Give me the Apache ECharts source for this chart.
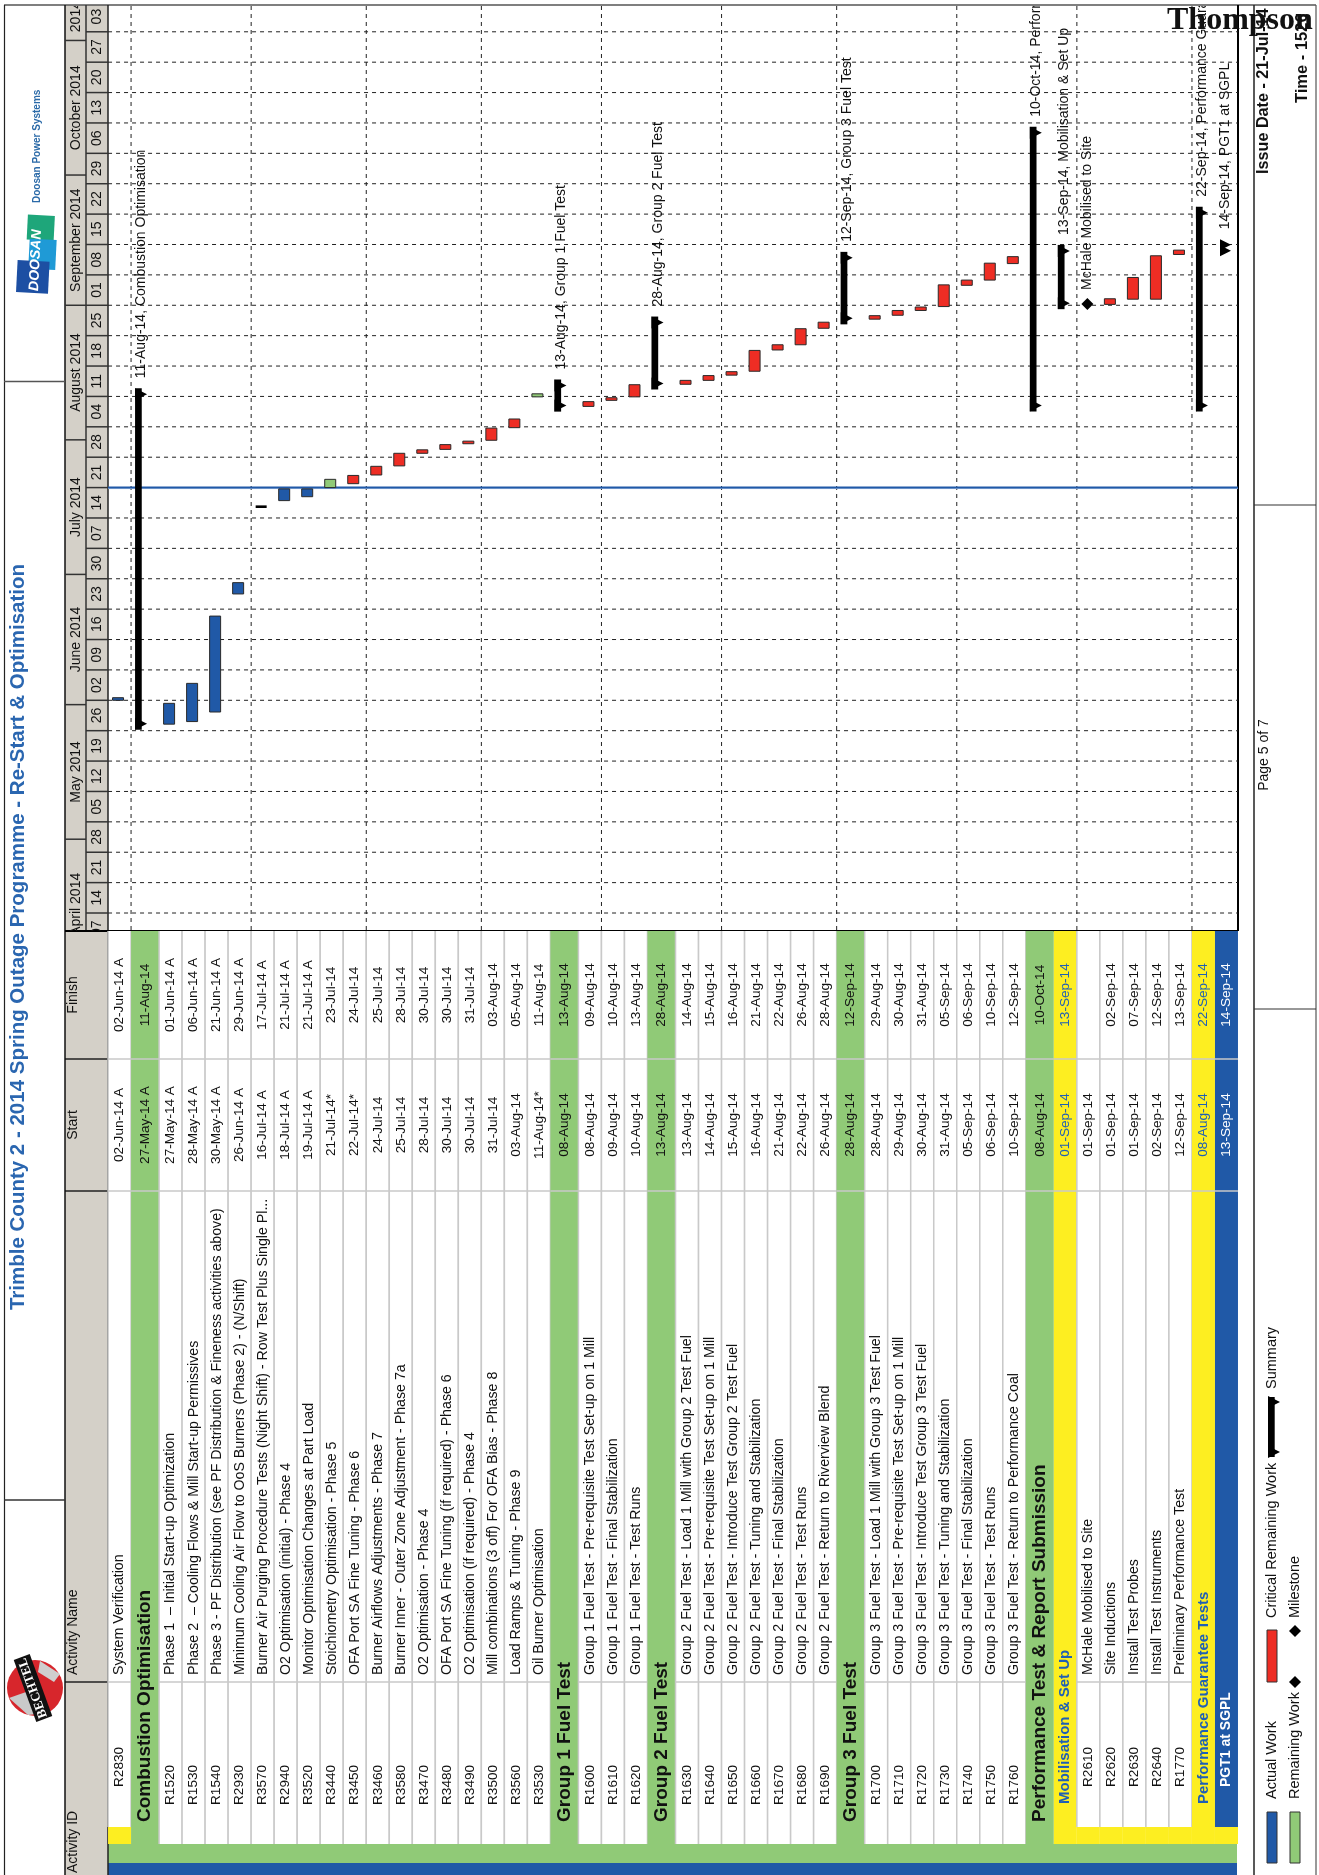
<!DOCTYPE html>
<html>
<head>
<meta charset="utf-8">
<style>html,body{margin:0;padding:0;background:#fff}#c{width:1319px;height:1875px}</style>
<script src="https://cdn.jsdelivr.net/npm/echarts@6/dist/echarts.min.js"></script>
</head>
<body>
<div id="c"></div>
<script>
const rowIds=['R2830','','R1520','R1530','R1540','R2930','R3570','R2940','R3520','R3440','R3450','R3460','R3580','R3470','R3480','R3490','R3500','R3560','R3530','','R1600','R1610','R1620','','R1630','R1640','R1650','R1660','R1670','R1680','R1690','','R1700','R1710','R1720','R1730','R1740','R1750','R1760','','','R2610','R2620','R2630','R2640','R1770','','PGT1 at SGPL'];
const rowNames=['System Verification','Combustion Optimisation','Phase 1  – Initial Start-up Optimization','Phase 2  – Cooling Flows & Mill Start-up Permissives','Phase 3 - PF Distribution (see PF Distribution & Fineness activities above)','Minimum Cooling Air Flow to OoS Burners (Phase 2) - (N/Shift)','Burner Air Purging Procedure Tests (Night Shift) - Row Test Plus Single Pl...','O2 Optimisation (initial) - Phase 4','Monitor Optimisation Changes at Part Load','Stoichiometry Optimisation - Phase 5','OFA Port SA Fine Tuning - Phase 6','Burner Airflows Adjustments - Phase 7','Burner Inner - Outer Zone Adjustment - Phase 7a','O2 Optimisation - Phase 4','OFA Port SA Fine Tuning (if required) - Phase 6','O2 Optimisation (if required) - Phase 4','Mill combinations (3 off) For OFA Bias - Phase 8','Load Ramps & Tuning - Phase 9','Oil Burner Optimisation','Group 1 Fuel Test','Group 1 Fuel Test - Pre-requisite Test Set-up on 1 Mill','Group 1 Fuel Test - Final Stabilization','Group 1 Fuel Test - Test Runs','Group 2 Fuel Test','Group 2 Fuel Test - Load 1 Mill with Group 2 Test Fuel','Group 2 Fuel Test - Pre-requisite Test Set-up on 1 Mill','Group 2 Fuel Test - Introduce Test Group 2 Test Fuel','Group 2 Fuel Test - Tuning and Stabilization','Group 2 Fuel Test - Final Stabilization','Group 2 Fuel Test - Test Runs','Group 2 Fuel Test - Return to Riverview Blend','Group 3 Fuel Test','Group 3 Fuel Test - Load 1 Mill with Group 3 Test Fuel','Group 3 Fuel Test - Pre-requisite Test Set-up on 1 Mill','Group 3 Fuel Test - Introduce Test Group 3 Test Fuel','Group 3 Fuel Test - Tuning and Stabilization','Group 3 Fuel Test - Final Stabilization','Group 3 Fuel Test - Test Runs','Group 3 Fuel Test - Return to Performance Coal','Performance Test & Report Submission','Mobilisation & Set Up','McHale Mobilised to Site','Site Inductions','Install Test Probes','Install Test Instruments','Preliminary Performance Test','Performance Guarantee Tests',''];
const rowStarts=['02-Jun-14 A','27-May-14 A','27-May-14 A','28-May-14 A','30-May-14 A','26-Jun-14 A','16-Jul-14 A','18-Jul-14 A','19-Jul-14 A','21-Jul-14*','22-Jul-14*','24-Jul-14','25-Jul-14','28-Jul-14','30-Jul-14','30-Jul-14','31-Jul-14','03-Aug-14','11-Aug-14*','08-Aug-14','08-Aug-14','09-Aug-14','10-Aug-14','13-Aug-14','13-Aug-14','14-Aug-14','15-Aug-14','16-Aug-14','21-Aug-14','22-Aug-14','26-Aug-14','28-Aug-14','28-Aug-14','29-Aug-14','30-Aug-14','31-Aug-14','05-Sep-14','06-Sep-14','10-Sep-14','08-Aug-14','01-Sep-14','01-Sep-14','01-Sep-14','01-Sep-14','02-Sep-14','12-Sep-14','08-Aug-14','13-Sep-14'];
const rowFinishes=['02-Jun-14 A','11-Aug-14','01-Jun-14 A','06-Jun-14 A','21-Jun-14 A','29-Jun-14 A','17-Jul-14 A','21-Jul-14 A','21-Jul-14 A','23-Jul-14','24-Jul-14','25-Jul-14','28-Jul-14','30-Jul-14','30-Jul-14','31-Jul-14','03-Aug-14','05-Aug-14','11-Aug-14','13-Aug-14','09-Aug-14','10-Aug-14','13-Aug-14','28-Aug-14','14-Aug-14','15-Aug-14','16-Aug-14','21-Aug-14','22-Aug-14','26-Aug-14','28-Aug-14','12-Sep-14','29-Aug-14','30-Aug-14','31-Aug-14','05-Sep-14','06-Sep-14','10-Sep-14','12-Sep-14','10-Oct-14','13-Sep-14','','02-Sep-14','07-Sep-14','12-Sep-14','13-Sep-14','22-Sep-14','14-Sep-14'];
const rowKinds=['first','group','task','task','task','task','task','task','task','task','task','task','task','task','task','task','task','task','task','group','task','task','task','group','task','task','task','task','task','task','task','group','task','task','task','task','task','task','task','group','sub','subtask','subtask','subtask','subtask','subtask','sub','pgt'];
// bar extents, in days after 14 Apr 2014
const barFrom=[49.0,42.2,43.5,44.1,46.3,73.5,93.3,95.0,95.9,98.0,98.9,100.9,103.0,105.9,106.8,108.1,108.9,111.8,118.9,115.5,116.7,118.1,118.9,120.6,121.8,122.7,123.9,124.8,129.7,130.9,134.7,135.6,136.8,137.7,138.8,139.7,144.6,145.8,149.6,115.5,139.1,140.3,140.2,141.4,141.4,151.7,115.5,151.3];
const barTo=[49.6,120.9,48.3,52.9,68.4,76.1,93.9,97.7,97.7,99.9,100.8,102.9,105.9,106.7,107.9,108.7,111.7,113.8,119.6,122.9,117.8,118.7,121.7,137.4,122.7,123.8,124.7,129.6,130.9,134.6,136.1,152.3,137.6,138.8,139.6,144.7,145.8,149.7,151.2,181.1,153.9,140.3,141.5,146.4,151.4,152.7,162.7,155.2];
const barTypes=['actual','summary','actual','actual','actual','actual','thin','actual','actual','remaining','critical','critical','critical','critical','critical','critical','critical','critical','remaining','summary','critical','critical','critical','summary','critical','critical','critical','critical','critical','critical','critical','summary','critical','critical','critical','critical','critical','critical','critical','summary','summary','milestone','critical','critical','critical','critical','summary','doubleArrow'];
const barLabels={1:'11-Aug-14, Combustion Optimisation',19:'13-Aug-14, Group 1 Fuel Test',23:'28-Aug-14, Group 2 Fuel Test',31:'12-Sep-14, Group 3 Fuel Test',39:'10-Oct-14, Performance Test & Report Submission',40:'13-Sep-14, Mobilisation & Set Up',41:'McHale Mobilised to Site',46:'22-Sep-14, Performance Guarantee Tests',47:'14-Sep-14, PGT1 at SGPL'};
const weekDates=['2014-04-07','2014-04-14','2014-04-21','2014-04-28','2014-05-05','2014-05-12','2014-05-19','2014-05-26','2014-06-02','2014-06-09','2014-06-16','2014-06-23','2014-06-30','2014-07-07','2014-07-14','2014-07-21','2014-07-28','2014-08-04','2014-08-11','2014-08-18','2014-08-25','2014-09-01','2014-09-08','2014-09-15','2014-09-22','2014-09-29','2014-10-06','2014-10-13','2014-10-20','2014-10-27','2014-11-03'];
const weekLabels=['07','14','21','28','05','12','19','26','02','09','16','23','30','07','14','21','28','04','11','18','25','01','08','15','22','29','06','13','20','27','03'];
const monthNames=['April 2014','May 2014','June 2014','July 2014','August 2014','September 2014','October 2014','2014'];
const monthStarts=['2014-04-01','2014-05-01','2014-06-01','2014-07-01','2014-08-01','2014-09-01','2014-10-01','2014-11-01'];
const monthEnds=['2014-05-01','2014-06-01','2014-07-01','2014-08-01','2014-09-01','2014-10-01','2014-11-01','2014-11-12'];
const statusDate='2014-07-21';

const DAY=864e5, T0=Date.UTC(2014,3,14);
const ts=s=>{const p=s.split('-').map(Number);return Date.UTC(p[0],p[1]-1,p[2]);};
const dayTs=d=>T0+d*DAY;
const kindH={first:23,group:28,task:23,sub:23,subtask:23,pgt:23};
const rowTop=[];let acc=0;rowKinds.forEach(k=>{rowTop.push(acc);acc+=kindH[k];});
const rowEnd=acc;

const SANS='"Liberation Sans",Arial,sans-serif';
const C={green:'#90ca77',yellow:'#fdee21',blue:'#2059a7',red:'#ee2d24',grey:'#d4d0c8',sep:'#c9c9c9',ink:'#111',subInk:'#1f5fb5'};
const COL={head:931,finish:995,fs:1059,start:1125,sn:1191,name:1675,ni:1682,idTask:1805,idSub:1787,grp:1822,subName:1804,whiteEnd:1844,subEnd:1827,greenEnd:1863,end:1875};

function vt(text,x,y,font,fill,align,z){
  return {type:'text',x:x,y:y,rotation:Math.PI/2,z:z||0,silent:true,
    style:{text:text,fill:fill||C.ink,font:font,align:align||'left',verticalAlign:'middle',textAlign:align||'left',textVerticalAlign:'middle'}};
}
const rectEl=(x,y,w,h,fill,stroke,lw,z)=>({type:'rect',silent:true,z:z||0,shape:{x:x,y:y,width:w,height:h},style:{fill:fill,stroke:stroke||null,lineWidth:lw||0}});
const lineEl=(x1,y1,x2,y2,stroke,lw,dash,z)=>({type:'line',silent:true,z:z||0,shape:{x1:x1,y1:y1,x2:x2,y2:y2},style:{stroke:stroke,lineWidth:lw||1,lineDash:dash||null}});
const polyEl=(pts,fill,z)=>({type:'polygon',silent:true,z:z||0,shape:{points:pts},style:{fill:fill}});

// table rows (left part of the sheet, rotated)
function renderTable(params,api){
  const i=params.dataIndex,k=rowKinds[i];
  const x0=api.coord([rowTop[i],T0])[0],x1=x0+kindH[k],cx=(x0+x1)/2;
  const ch=[],fName='14.2px '+SANS,fDate='13.6px '+SANS;
  const H=COL.head;
  const fill=k==='group'?C.green:k==='sub'?C.yellow:k==='pgt'?C.blue:'#fff';
  const bottom=(k==='first'||k==='subtask'||k==='pgt')?COL.subEnd:(k==='sub'?COL.subEnd:COL.whiteEnd);
  ch.push(rectEl(x0,H,x1-x0,bottom-H,fill));
  if(k==='first') ch.push(rectEl(x0,COL.subEnd,x1-x0,COL.whiteEnd-COL.subEnd,C.yellow));
  if(k==='sub'||k==='subtask'||k==='pgt') ch.push(rectEl(x0,COL.subEnd,x1-x0,COL.whiteEnd-COL.subEnd,C.yellow));
  // separators
  if(k==='task'||k==='first'||k==='subtask'){
    ch.push(lineEl(x1,H,x1,bottom,C.sep,1.5));
    ch.push(lineEl(x0,H,x0,bottom,C.sep,1.5));
    ch.push(lineEl(x0,COL.ni,x1,COL.ni,C.sep,1.5));
  }
  ch.push(lineEl(x0,COL.fs,x1,COL.fs,C.sep,1.5));
  ch.push(lineEl(x0,COL.sn,x1,COL.sn,C.sep,1.5));
  const txtCol=k==='sub'?C.subInk:k==='pgt'?'#fff':C.ink;
  ch.push(vt(rowStarts[i],cx,COL.start,fDate,txtCol,'center'));
  if(rowFinishes[i]) ch.push(vt(rowFinishes[i],cx,COL.finish,fDate,txtCol,'center'));
  if(k==='group') ch.push(vt(rowNames[i],cx,COL.grp,'bold 19px '+SANS,C.ink));
  else if(k==='sub') ch.push(vt(rowNames[i],cx,COL.subName,'bold 15px '+SANS,C.subInk));
  else if(k==='pgt') ch.push(vt(rowIds[i],cx,COL.idSub,'bold 14px '+SANS,'#fff'));
  else{
    ch.push(vt(rowIds[i],cx,k==='task'?COL.idTask:COL.idSub,fDate,C.ink));
    ch.push(vt(rowNames[i],cx,COL.name,fName,C.ink));
  }
  return {type:'group',children:ch};
}

// time header + dashed grid
function renderGrid(params,api){
  const d=weekDates[params.dataIndex],t=ts(d);
  const y=api.coord([0,t])[1],y2=api.coord([0,t+7*DAY])[1];
  const ch=[];
  ch.push(lineEl(86,y,108,y,'#333',1.5));
  ch.push(vt(weekLabels[params.dataIndex],97,(y+y2)/2,'14px '+SANS,C.ink,'center'));
  ch.push(lineEl(api.coord([0,t])[0],y,api.coord([rowEnd,t])[0],y,'#222',1,[4,4]));
  return {type:'group',children:ch};
}
function renderMonth(params,api){
  const i=params.dataIndex;
  const y=api.coord([0,ts(monthStarts[i])])[1],y2=api.coord([0,ts(monthEnds[i])])[1];
  return {type:'group',children:[
    lineEl(65,y,86,y,'#333',1.5),
    vt(monthNames[i],76,(y+y2)/2,'14px '+SANS,C.ink,'center')
  ]};
}
function renderVert(params,api){
  const i=params.dataIndex*5+1;
  const x=api.coord([rowTop[i],T0])[0];
  return lineEl(x,6,x,931,'#222',1,[4,4]);
}
function renderBar(params,api){
  const i=params.dataIndex,type=barTypes[i];
  const xTop=api.coord([rowTop[i],T0])[0];
  const a=api.coord([0,dayTs(barFrom[i])])[1],b=api.coord([0,dayTs(barTo[i])])[1];
  const ch=[];
  if(type==='actual'||type==='critical'||type==='remaining'){
    const fill=type==='actual'?C.blue:type==='critical'?C.red:C.green;
    ch.push(rectEl(xTop+4.5,b,11,Math.max(a-b,2),fill,'#2a2a2a',1));
  }else if(type==='thin'){
    ch.push(rectEl(xTop+4.5,b,11,Math.max(a-b,2.4),'#000'));
  }else if(type==='summary'){
    const x=xTop+4,w=6.7,tip=12;
    ch.push(rectEl(x,b,w,a-b,'#000'));
    ch.push(polyEl([[x,a],[x+tip,a-6],[x,a-12]],'#000'));
    ch.push(polyEl([[x,b],[x+tip,b+6],[x,b+12]],'#000'));
  }else if(type==='doubleArrow'){
    const x=xTop+5;
    ch.push(polyEl([[x,a],[x+11,a-5.5],[x,a-11]],'#000'));
    ch.push(polyEl([[x,b],[x+11,b+5.5],[x,b+11]],'#000'));
  }else if(type==='milestone'){
    const cx=xTop+10.5,cy=a;
    ch.push(polyEl([[cx-6,cy],[cx,cy-6],[cx+6,cy],[cx,cy+6]],'#000'));
  }
  if(barLabels[i]){
    const ly=type==='milestone'?a-14:b-10;
    ch.push(vt(barLabels[i],xTop+10.5,ly,'14px '+SANS,C.ink));
  }
  return {type:'group',children:ch};
}
function renderStatus(params,api){
  const t=ts(statusDate),x0=api.coord([0,t])[0],x1=api.coord([rowEnd,t])[0],y=api.coord([0,t])[1];
  return {type:'group',children:[lineEl(x0,y+1,x1,y+1,'#a9c3e6',1),lineEl(x0,y,x1,y,C.blue,2)]};
}

const chrome=[
  // header fills
  rectEl(65,5,43,926,C.grey),
  rectEl(65,931,43,944,C.grey),
  // title
  vt('Trimble County 2 - 2014 Spring Outage Programme - Re-Start & Optimisation',18,937,'bold 20.5px '+SANS,'#2a66b0','center'),
  // table header labels
  vt('Finish',73,995,'14px '+SANS,C.ink,'center'),
  vt('Start',73,1125,'14px '+SANS,C.ink,'center'),
  vt('Activity Name',73,1675,'14px '+SANS,C.ink),
  vt('Activity ID',73,1873,'14px '+SANS,C.ink),
  lineEl(65,1059,108,1059,'#222',1.5),
  lineEl(65,1191,108,1191,'#222',1.5),
  lineEl(65,1682,108,1682,'#222',1.5),
  // bottom strips
  rectEl(108,1844,1129,19,C.green),
  rectEl(108,1863,1129,12,C.blue),
  // frame
  lineEl(4,5,1316,5,'#555',1.5),
  lineEl(4.5,5,4.5,1875,'#222',1.2),
  lineEl(65,5,65,1875,'#111',1.5),
  lineEl(86,5,86,931,'#333',1.5),
  lineEl(108,5,108,1875,'#222',1.5),
  lineEl(65,931,1238,931,'#000',2),
  lineEl(1238,5,1238,931,'#000',2),
  lineEl(1254,5,1254,1875,'#222',1.5),
  lineEl(1316,5,1316,1875,'#555',1.2),
  lineEl(4,381.5,65,381.5,'#555',1.5),
  lineEl(4,1500,65,1500,'#333',1.5),
  lineEl(1254,505,1316,505,'#333',1.2),
  lineEl(1254,1009,1316,1009,'#333',1.2),
  // footer
  vt('Page 5 of 7',1264,755,'14px '+SANS,C.ink,'center'),
  vt('Issue Date - 21-Jul-14',1264,174,'bold 16.2px '+SANS,C.ink),
  vt('Time - 1526',1302,103,'bold 16.5px '+SANS,C.ink),
  {type:'text',x:1167,y:21,z:100,silent:true,style:{text:'Thompson',fill:'#111',font:'bold 32px "Liberation Serif",serif',align:'left',verticalAlign:'middle',textAlign:'left',textVerticalAlign:'middle'}},
  // legend
  rectEl(1267,1812,10,51,C.blue,'#333',1),
  vt('Actual Work',1272,1799,'14.5px '+SANS,C.ink),
  rectEl(1290,1812,10,51,C.green,'#333',1),
  vt('Remaining Work',1295,1799,'14.5px '+SANS,C.ink),
  polyEl([[1289,1682],[1295,1676],[1301,1682],[1295,1688]],'#000'),
  rectEl(1267,1630,10,52,C.red,'#333',1),
  vt('Critical Remaining Work',1272,1618,'14.5px '+SANS,C.ink),
  polyEl([[1289,1631],[1295,1625],[1301,1631],[1295,1637]],'#000'),
  vt('Milestone',1295,1618,'14.5px '+SANS,C.ink),
  rectEl(1268,1397,6.7,60,'#000'),
  polyEl([[1268,1458],[1280,1452],[1268,1446]],'#000'),
  polyEl([[1268,1396],[1280,1402],[1268,1408]],'#000'),
  vt('Summary',1272,1389,'14.5px '+SANS,C.ink),
  // Doosan logo
  vt('Doosan Power Systems',37.5,203,'bold 10px "Liberation Sans Narrow","Liberation Sans",sans-serif','#2b6aa8'),
  {type:'group',x:36,y:253,rotation:-0.05,silent:true,children:[
    rectEl(-10,-38,27,25,'#1ea67a'),
    rectEl(-7,-14,27,30,'#1f9ad6'),
    rectEl(-18,8,32,32,'#1d4fa3'),
    vt('DOOSAN',0,38,'italic bold 14px '+SANS,'#fff')
  ]},
  // Bechtel logo
  {type:'circle',silent:true,shape:{cx:35,cy:1688,r:28},style:{fill:'#d7262c'}},
  {type:'polygon',silent:true,shape:{points:[[9,1698],[28,1715],[46,1713],[26,1692]]},style:{fill:'#c9c9c9'}},
  {type:'polygon',silent:true,shape:{points:[[40,1661],[60,1674],[54,1682],[38,1672]]},style:{fill:'#cfcfcf'}},
  {type:'group',x:33,y:1688,rotation:110*Math.PI/180-Math.PI/2,silent:true,children:[
    rectEl(-8.5,-33,17,66,'#111'),
    vt('BECHTEL',0,0,'bold 13px "Liberation Serif",serif','#fff','center')
  ]}
];

const chart=echarts.init(document.getElementById('c'),null,{renderer:'canvas'});
const yMin=T0-4.146*DAY,yMax=T0+208.94*DAY;
const idxData=a=>a.map((_,i)=>[i,T0]);
const base={type:'custom',coordinateSystem:'cartesian2d',encode:{x:0,y:1},animation:false,silent:true};
chart.setOption({
  animation:false,
  backgroundColor:'#fff',
  grid:{left:65,right:81,top:6,bottom:944},
  xAxis:{type:'value',min:-43,max:rowEnd,show:false},
  yAxis:{type:'time',min:yMin,max:yMax,show:false},
  graphic:{elements:chrome},
  tooltip:{show:false},
  series:[
    Object.assign({},base,{name:'Table',clip:false,z:1,data:idxData(rowKinds),renderItem:renderTable}),
    Object.assign({},base,{name:'Months',clip:true,z:3,data:idxData(monthNames),renderItem:renderMonth}),
    Object.assign({},base,{name:'Weeks',clip:true,z:3,data:idxData(weekDates),renderItem:renderGrid}),
    Object.assign({},base,{name:'Row guides',clip:true,z:3,data:idxData(new Array(10)),renderItem:renderVert}),
    Object.assign({},base,{name:'Status',clip:true,z:4,data:[[0,T0]],renderItem:renderStatus}),
    Object.assign({},base,{name:'Bars',clip:true,z:5,data:idxData(rowKinds),renderItem:renderBar})
  ]
});
</script>
</body>
</html>
